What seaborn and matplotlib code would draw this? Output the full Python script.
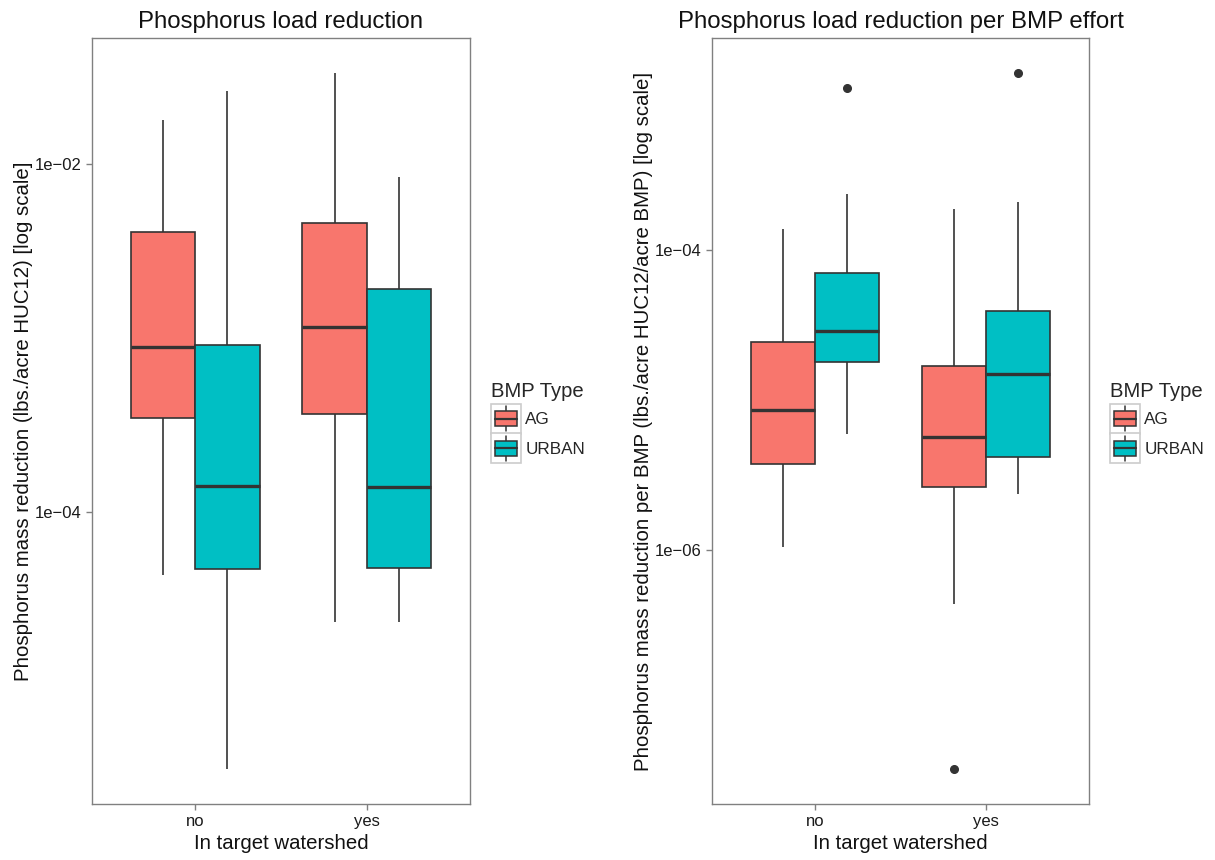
import numpy as np
import pandas as pd
import matplotlib
matplotlib.use("Agg")
import matplotlib.pyplot as plt
import seaborn as sns
from matplotlib.legend_handler import HandlerBase
from matplotlib.patches import Rectangle, Patch
from matplotlib.lines import Line2D
from matplotlib.ticker import FixedLocator, FuncFormatter, NullLocator

watershed = ["no", "yes"]
bmp_types = ["AG", "URBAN"]
bmp_colors = ["#F8766D", "#00BFC4"]

# five-number summaries: [lower whisker, Q1, median, Q3, upper whisker]
load_ag_no = [4.36e-5, 3.46e-4, 8.83e-4, 4.07e-3, 1.79e-2]
load_urban_no = [3.33e-6, 4.71e-5, 1.41e-4, 9.06e-4, 2.62e-2]
load_ag_yes = [2.34e-5, 3.65e-4, 1.15e-3, 4.59e-3, 3.33e-2]
load_urban_yes = [2.34e-5, 4.78e-5, 1.39e-4, 1.90e-3, 8.43e-3]

eff_ag_no = [1.06e-6, 3.78e-6, 8.65e-6, 2.45e-5, 1.38e-4]
eff_urban_no = [5.98e-6, 1.80e-5, 2.90e-5, 7.03e-5, 2.36e-4]
eff_ag_yes = [4.38e-7, 2.66e-6, 5.71e-6, 1.69e-5, 1.87e-4]
eff_urban_yes = [2.39e-6, 4.15e-6, 1.48e-5, 3.94e-5, 2.08e-4]

# outliers
eff_urban_no_hi = [1.19e-3]
eff_ag_yes_lo = [3.51e-8]
eff_urban_yes_hi = [1.50e-3]

EDGE = "#333333"


def pseudo_sample(five, out_lo=(), out_hi=()):
    # 9 points whose quartiles land exactly on q1 / median / q3
    lo, q1, med, q3, hi = five
    low_part = list(out_lo) + [lo] if out_lo else [lo, q1]
    high_part = [hi] + list(out_hi) if out_hi else [q3, hi]
    return low_part + [q1, med, med, med, q3] + high_part


def make_frame(groups):
    rows = []
    for ws, bmp, values in groups:
        for v in values:
            rows.append({"watershed": ws, "bmp": bmp, "value": v})
    return pd.DataFrame(rows)


load_df = make_frame([
    ("no", "AG", pseudo_sample(load_ag_no)),
    ("no", "URBAN", pseudo_sample(load_urban_no)),
    ("yes", "AG", pseudo_sample(load_ag_yes)),
    ("yes", "URBAN", pseudo_sample(load_urban_yes)),
])
eff_df = make_frame([
    ("no", "AG", pseudo_sample(eff_ag_no)),
    ("no", "URBAN", pseudo_sample(eff_urban_no, out_hi=eff_urban_no_hi)),
    ("yes", "AG", pseudo_sample(eff_ag_yes, out_lo=eff_ag_yes_lo)),
    ("yes", "URBAN", pseudo_sample(eff_urban_yes, out_hi=eff_urban_yes_hi)),
])


class BoxKey(HandlerBase):
    # ggplot-like legend key: little boxplot on a grey-bordered square
    def create_artists(self, legend, orig_handle, xdescent, ydescent,
                       width, height, fontsize, trans):
        s = width
        x0 = -xdescent
        y0 = -ydescent + height / 2 - s / 2
        bg = Rectangle((x0, y0), s, s, facecolor="white",
                       edgecolor="#cccccc", lw=1.2, transform=trans)
        cx = x0 + s / 2
        whisk = Line2D([cx, cx], [y0 + s * 0.09, y0 + s * 0.91],
                       color=EDGE, lw=1.1, transform=trans)
        box = Rectangle((x0 + s * 0.12, y0 + s * 0.24), s * 0.76, s * 0.52,
                        facecolor=orig_handle.get_facecolor(),
                        edgecolor=EDGE, lw=1.1, transform=trans)
        med = Line2D([x0 + s * 0.12, x0 + s * 0.88], [y0 + s / 2] * 2,
                     color=EDGE, lw=1.6, transform=trans)
        return [bg, whisk, box, med]


def fmt_sci(v, pos):
    exp = int(round(np.log10(v)))
    sign = "\u2212" if exp < 0 else ""
    return f"1e{sign}{abs(exp):02d}"


sns.set_style("white")
plt.rcParams["font.family"] = ["Liberation Sans", "DejaVu Sans"]

fig = plt.figure(figsize=(12.15, 8.6), dpi=100)
ax1 = fig.add_axes([92 / 1215, 56 / 860, 378 / 1215, 766 / 860])
ax2 = fig.add_axes([712 / 1215, 56 / 860, 377 / 1215, 766 / 860])

panels = [
    (ax1, load_df, "Phosphorus load reduction",
     "Phosphorus mass reduction (lbs./acre HUC12) [log scale]", [1e-4, 1e-2]),
    (ax2, eff_df, "Phosphorus load reduction per BMP effort",
     "Phosphorus mass reduction per BMP (lbs./acre HUC12/acre BMP) [log scale]", [1e-6, 1e-4]),
]

for ax, df, title, ylabel, ticks in panels:
    sns.boxplot(data=df, x="watershed", y="value", hue="bmp", order=watershed,
                hue_order=bmp_types, palette=bmp_colors, saturation=1,
                log_scale=True, width=0.75, gap=0, linecolor=EDGE, linewidth=1.2,
                showcaps=False, fliersize=5.5,
                medianprops={"linewidth": 2.4, "color": EDGE},
                flierprops={"marker": "o", "markerfacecolor": EDGE,
                            "markeredgecolor": EDGE},
                legend=False, ax=ax)
    logs = np.log10(df["value"])
    pad = 0.05 * (logs.max() - logs.min())
    ax.set_ylim(10 ** (logs.min() - pad), 10 ** (logs.max() + pad))
    ax.set_xlim(-0.6, 1.6)
    ax.yaxis.set_major_locator(FixedLocator(ticks))
    ax.yaxis.set_major_formatter(FuncFormatter(fmt_sci))
    ax.yaxis.set_minor_locator(NullLocator())
    ax.tick_params(axis="both", which="major", length=4, width=1, color="#808080",
                   labelsize=12, labelcolor="#1a1a1a", pad=3.5, direction="out",
                   left=True, bottom=True)
    for sp in ax.spines.values():
        sp.set_color("#808080")
        sp.set_linewidth(1.0)
    ax.set_title(title, fontsize=17.3, pad=7, color="#111111")
    ax.set_xlabel("In target watershed", fontsize=14.7, labelpad=3, color="#111111")
    ax.set_ylabel(ylabel, fontsize=14.7, labelpad=1.5, color="#111111")
    ax.grid(False)

    handles = [Patch(facecolor=c) for c in bmp_colors]
    leg = ax.legend(handles, bmp_types, title="BMP Type", loc="center left",
                    bbox_to_anchor=(1.033, 0.5), frameon=False, borderpad=0,
                    fontsize=12.3, title_fontsize=14.6, handlelength=1.75,
                    handleheight=1.75, labelspacing=0.35, handletextpad=0.25,
                    alignment="left", handler_map={Patch: BoxKey()})

fig.savefig("out.png", dpi=100)
